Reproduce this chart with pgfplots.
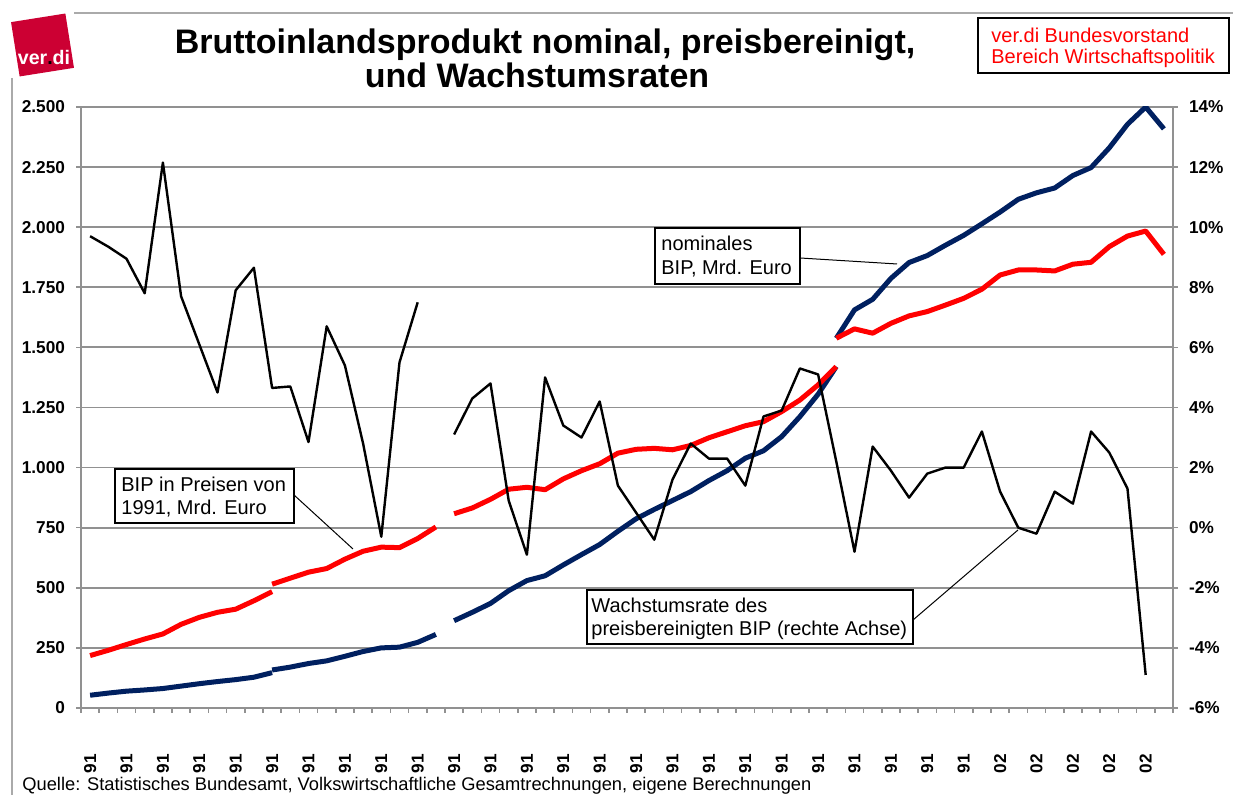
\documentclass[border=0pt]{standalone}
\usepackage{pgfplots}
\pgfplotsset{compat=1.18}
\usepackage{fontspec}
\setmainfont{Liberation Sans}
\definecolor{bipnavy}{RGB}{0,32,96}
\definecolor{bipred}{RGB}{255,0,0}
\definecolor{verdired}{RGB}{204,0,51}
\definecolor{gridgray}{RGB}{145,145,145}
\definecolor{framegray}{RGB}{170,170,170}

\begin{document}
\begin{tikzpicture}
\useasboundingbox (0,0) rectangle (616.5pt,397.5pt);

\begin{axis}[
  at={(40.5pt,43.5pt)}, anchor=south west,
  width=546pt, height=300.5pt, scale only axis,
  xmin=-0.5, xmax=59.5, ymin=0, ymax=2500,
  axis x line*=bottom, axis y line*=left,
  axis line style={-, draw=gridgray, line width=1pt},
  xtick={-0.5,0.5,...,59.5}, xticklabels={},
  extra x ticks={0,2,...,58},
  extra x tick labels={91,91,91,91,91,91,91,91,91,91,91,91,91,91,91,91,91,91,91,91,91,91,91,91,91,02,02,02,02,02},
  extra x tick style={major tick length=0pt, xticklabel style={rotate=90, anchor=center, xshift=-28pt}},
  ytick={0,250,...,2500},
  yticklabels={0,250,500,750,1.000,1.250,1.500,1.750,2.000,2.250,2.500},
  ymajorgrids, grid style={draw=gridgray, line width=0.9pt},
  tick align=outside, major tick length=2.5pt,
  tick style={draw=gridgray, line width=0.8pt},
  tick label style={font=\bfseries\fontsize{8.6}{10}\selectfont},
  yticklabel style={xshift=-2pt},
]
% nominal GDP (navy)
\addplot[bipnavy, line width=2.5pt, line join=round] coordinates {
(0,53) (1,62) (2,70) (3,75) (4,81) (5,91) (6,101) (7,110) (8,118) (9,128) (10,147)};
\addplot[bipnavy, line width=2.5pt, line join=round] coordinates {
(10,158) (11,170) (12,185) (13,196) (14,215) (15,235) (16,250) (17,253) (18,273) (19,306)};
\addplot[bipnavy, line width=2.5pt, line join=round] coordinates {
(20,363) (21,398) (22,435) (23,488) (24,530) (25,550) (26,595) (27,638) (28,680) (29,735)
(30,787) (31,826) (32,863) (33,900) (34,946) (35,987) (36,1039) (37,1070) (38,1129) (39,1212)
(40,1305) (41,1420)};
\addplot[bipnavy, line width=2.5pt, line join=round] coordinates {
(41,1538) (42,1656) (43,1700) (44,1787) (45,1853) (46,1882) (47,1925) (48,1966) (49,2014)
(50,2063) (51,2116) (52,2143) (53,2163) (54,2215) (55,2248) (56,2330) (57,2428) (58,2500) (59,2409)};
% real GDP (red)
\addplot[bipred, line width=2.5pt, line join=round] coordinates {
(0,218) (1,240) (2,264) (3,287) (4,308) (5,348) (6,377) (7,398) (8,411) (9,446) (10,484)};
\addplot[bipred, line width=2.5pt, line join=round] coordinates {
(10,515) (11,540) (12,565) (13,580) (14,619) (15,652) (16,669) (17,667) (18,705) (19,753)};
\addplot[bipred, line width=2.5pt, line join=round] coordinates {
(20,808) (21,832) (22,868) (23,910) (24,918) (25,908) (26,953) (27,987) (28,1016) (29,1060)
(30,1076) (31,1080) (32,1074) (33,1092) (34,1124) (35,1149) (36,1174) (37,1191) (38,1233) (39,1281)
(40,1344) (41,1420)};
\addplot[bipred, line width=2.5pt, line join=round] coordinates {
(41,1538) (42,1577) (43,1559) (44,1600) (45,1631) (46,1649) (47,1676) (48,1704) (49,1742)
(50,1801) (51,1822) (52,1822) (53,1818) (54,1846) (55,1854) (56,1919) (57,1963) (58,1984) (59,1887)};
\end{axis}

\begin{axis}[
  at={(40.5pt,43.5pt)}, anchor=south west,
  width=546pt, height=300.5pt, scale only axis,
  xmin=-0.5, xmax=59.5, ymin=-6, ymax=14,
  axis x line=none, axis y line*=right,
  axis line style={-, draw=gridgray, line width=1pt},
  ytick={-6,-4,...,14},
  yticklabels={-6\%,-4\%,-2\%,0\%,2\%,4\%,6\%,8\%,10\%,12\%,14\%},
  tick align=outside, major tick length=2.5pt,
  tick style={draw=gridgray, line width=0.8pt},
  tick label style={font=\bfseries\fontsize{8.6}{10}\selectfont},
  yticklabel style={xshift=2pt},
]
% real growth rate (black)
\addplot[black, line width=1.2pt, line join=round] coordinates {
(0,9.7) (1,9.35) (2,8.95) (3,7.8) (4,12.15) (5,7.7) (6,6.1) (7,4.5) (8,7.9) (9,8.65)
(10,4.65) (11,4.7) (12,2.85) (13,6.7) (14,5.4) (15,2.8) (16,-0.3) (17,5.5) (18,7.5)};
\addplot[black, line width=1.2pt, line join=round] coordinates {
(20,3.1) (21,4.3) (22,4.8) (23,0.9) (24,-0.9) (25,5.0) (26,3.4) (27,3.0) (28,4.2) (29,1.4)
(30,0.5) (31,-0.4) (32,1.6) (33,2.8) (34,2.3) (35,2.3) (36,1.4) (37,3.7) (38,3.9) (39,5.3)
(40,5.1) (41,2.2) (42,-0.8) (43,2.7) (44,1.9) (45,1.0) (46,1.8) (47,2.0) (48,2.0) (49,3.2)
(50,1.2) (51,0.0) (52,-0.2) (53,1.2) (54,0.8) (55,3.2) (56,2.5) (57,1.3) (58,-4.9)};
\end{axis}

\begin{scope}[x=0.5pt, y=-0.5pt, yshift=397.5pt]
% frame lines
\draw[framegray, line width=0.8pt] (74,13) -- (1233,13);
\draw[framegray, line width=0.8pt] (12,78) -- (12,795);
% logo
\node[fill=verdired, minimum size=27.5pt, inner sep=0, rotate=9] at (42.5,45) {};
\node[text=white, font=\bfseries\fontsize{9.8}{10}\selectfont, inner sep=0, anchor=base] at (44,65) {ver{\color{black}.}di};
% title
\node[anchor=base, inner sep=0, font=\bfseries\fontsize{17}{20}\selectfont] at (545,54) {Bruttoinlandsprodukt nominal, preisbereinigt,};
\node[anchor=base, inner sep=0, font=\bfseries\fontsize{17}{20}\selectfont] at (537,88) {und Wachstumsraten};
% red box
\draw[black, line width=0.7pt, fill=white] (978,18) rectangle (1229,73);
\node[anchor=base west, inner sep=0, text=red, font=\fontsize{10}{12}\selectfont] at (991,43) {ver.di Bundesvorstand};
\node[anchor=base west, inner sep=0, text=red, font=\fontsize{10}{12}\selectfont] at (991,64) {Bereich Wirtschaftspolitik};
% annotation: nominal
\draw[black, line width=0.5pt] (800,258) -- (897,264);
\draw[black, line width=0.6pt, fill=white] (655,228) rectangle (800,284);
\node[anchor=base west, inner sep=0, font=\fontsize{10}{12}\selectfont] at (661,251) {nominales};
\node[anchor=base west, inner sep=0, font=\fontsize{10}{12}\selectfont] at (661,275) {BIP, Mrd. Euro};
% annotation: real
\draw[black, line width=0.5pt] (294,495) -- (353,549);
\draw[black, line width=0.6pt, fill=white] (115,469) rectangle (294,523);
\node[anchor=base west, inner sep=0, font=\fontsize{10}{12}\selectfont] at (121,492) {BIP in Preisen von};
\node[anchor=base west, inner sep=0, font=\fontsize{10}{12}\selectfont] at (121,515) {1991, Mrd. Euro};
% annotation: growth
\draw[black, line width=0.5pt] (913,620) -- (1018,530);
\draw[black, line width=0.6pt, fill=white] (587,590) rectangle (913,644);
\node[anchor=base west, inner sep=0, font=\fontsize{10}{12}\selectfont] at (591,613) {Wachstumsrate des};
\node[anchor=base west, inner sep=0, font=\fontsize{10}{12}\selectfont] at (591,636) {preisbereinigten BIP (rechte Achse)};
% source
\node[anchor=base west, inner sep=0, font=\fontsize{9.15}{10}\selectfont] at (22,791) {Quelle: Statistisches Bundesamt, Volkswirtschaftliche Gesamtrechnungen, eigene Berechnungen};
\end{scope}
\end{tikzpicture}
\end{document}
